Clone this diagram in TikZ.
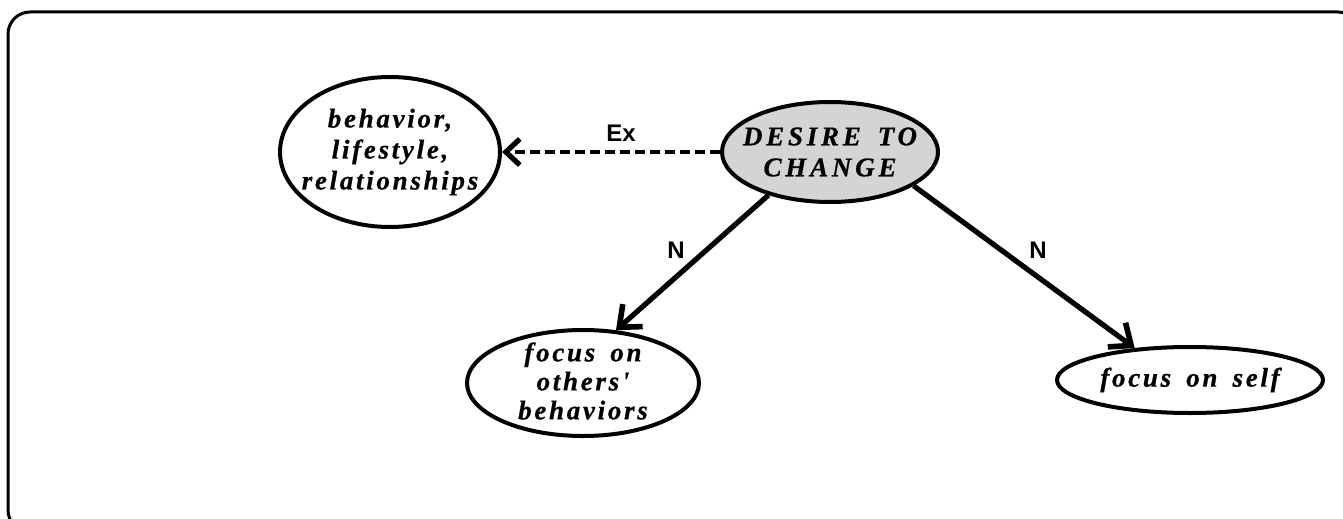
\documentclass[tikz,border=0pt]{standalone}
\usepackage{fontspec}
\setmainfont{Liberation Serif}
\newfontfamily\conceptfont[LetterSpace=10,WordSpace=1.6,FakeBold=0.6]{Liberation Serif}
\newfontfamily\capsfont[LetterSpace=14,WordSpace=1.6,FakeBold=0.6]{Liberation Serif}
\newfontfamily\linkfont{Liberation Sans}
\usetikzlibrary{shapes.geometric,arrows.meta}
\begin{document}
\begin{tikzpicture}[x=0.5pt,y=-0.5pt,
  concept/.style={ellipse,draw,line width=2pt,inner sep=0pt},
  concepttext/.style={align=center,inner sep=0pt,
    font=\conceptfont\bfseries\itshape\fontsize{13.5pt}{15.5pt}\selectfont},
  link/.style={line width=2.6pt,-{Straight Barb[length=9pt,width=15pt,line width=2.8pt]}},
  exlink/.style={line width=2pt,dash pattern=on 5pt off 2.5pt,
    -{Straight Barb[length=7pt,width=13pt,line width=2.6pt]}},
  linklabel/.style={font=\linkfont\bfseries\fontsize{12pt}{14pt}\selectfont}]
  \useasboundingbox (0,0) rectangle (1343,519);
  % outer frame, running past the right and bottom edges
  \draw[line width=1.5pt,rounded corners=11pt] (8,12) rectangle (1360,532);

  % concept ellipses
  \node[concept,minimum width=110pt,minimum height=75pt] (behav) at (390,152) {};
  \node[concept,fill=black!17,minimum width=108pt,minimum height=50pt] (desire) at (830,152) {};
  \node[concept,minimum width=116pt,minimum height=53pt] (others) at (583,383) {};
  \node[concept,minimum width=133pt,minimum height=33pt] (self) at (1190,380) {};

  % their texts
  \node[concepttext] (behavT) at (behav) {behavior,\\lifestyle,\\relationships};
  \node[concepttext,font=\capsfont\bfseries\itshape\fontsize{13.5pt}{15.5pt}\selectfont]
    (desireT) at (desire) {DESIRE TO\\CHANGE};
  \node[concepttext,font=\conceptfont\bfseries\itshape\fontsize{13.5pt}{14.5pt}\selectfont,
    yshift=1pt] (othersT) at (others) {focus on\\others'\\behaviors};
  \node[concepttext] (selfT) at (self) {focus on self};

  % links
  \draw[exlink] (desire.west) -- (behav.east);
  \draw[link] (desire.215) -- (others.58);
  \draw[link] (desire.338) -- (self.150);

  \node[linklabel] (lex) at (621,133) {Ex};
  \node[linklabel] (ln1) at (676,250) {N};
  \node[linklabel] (ln2) at (1038,250) {N};
\end{tikzpicture}
\end{document}
